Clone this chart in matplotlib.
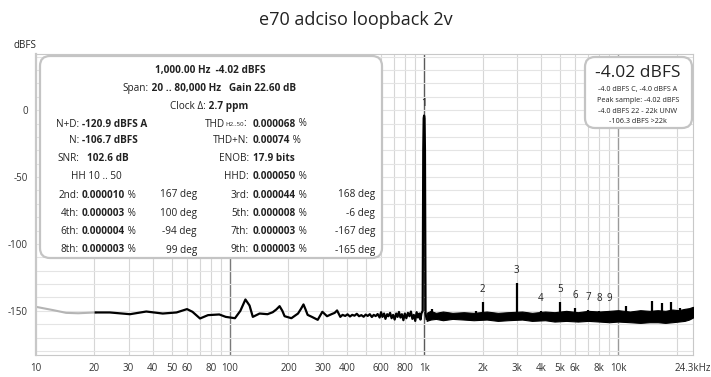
import matplotlib
matplotlib.use("Agg")
import matplotlib.pyplot as plt
from matplotlib.patches import FancyBboxPatch

plt.rcParams['font.family'] = ['Open Sans', 'DejaVu Sans']

# ---- data ----
# part below 20 Hz (outside the span) is drawn in grey
low_freq = [10, 12.3, 14.3, 16.5, 20.3]
low_db = [-147.0, -149.5, -151.5, -151.8, -151.2]

# main trace 20 Hz .. just past the fundamental
trace_freq = [20.3, 24, 30.5, 37, 45, 53, 60, 64, 70, 77, 88, 95, 106, 113, 120,
              126, 131, 142, 156, 166, 173, 180, 186, 191, 207, 224, 232, 239, 245,
              251, 264, 283, 299, 316, 333, 346, 356,
              370, 380, 392, 403, 415, 426, 438, 450, 462, 475, 488, 500, 512, 525,
              538, 550, 563, 576, 590, 600, 610, 622, 632, 645, 655, 668, 680, 692,
              705, 718, 730, 742, 755, 768, 782, 795, 810, 825, 840, 855, 870, 885,
              900, 915, 930, 945, 958, 968,
              983, 990, 995, 1000, 1005, 1010, 1017, 1030]
trace_db = [-151.2, -151.2, -152.5, -150.5, -152.0, -151.2, -148.7, -150.7, -155.7,
            -153.2, -152.7, -154.5, -155.5, -150.0, -141.5, -146.0, -154.5, -152.0,
            -152.5, -151.0, -149.0, -146.5, -150.0, -154.0, -155.5, -152.0, -148.5,
            -145.2, -149.0, -153.0, -154.5, -156.7, -150.7, -154.0, -152.5, -151.5,
            -149.7,
            -154.5, -153.0, -153.8, -152.6, -154.2, -153.0, -153.6, -152.2, -154.0,
            -153.2, -154.4, -152.8, -153.8, -152.5, -154.6, -153.0, -153.9, -152.4,
            -155.0, -151.0, -154.5, -152.0, -156.0, -152.5, -154.0, -151.5, -155.5,
            -153.0, -156.5, -152.0, -154.5, -150.8, -155.0, -152.5, -157.0, -152.0,
            -155.5, -151.5, -154.0, -150.5, -156.0, -153.0, -157.5, -151.0, -155.0,
            -152.0, -156.5, -152.0,
            -150.0, -30.0, -6.0, -4.02, -6.0, -30.0, -152.0, -156.0]

# noise floor band above 1 kHz (upper / lower edge)
band_freq = [1030, 1080, 1150, 1250, 1400, 1600, 1800, 2100, 2400, 2700,
             3200, 3600, 4200, 4700, 5400, 6200, 7000, 8000, 9000, 10000,
             11500, 13000, 14500, 16000, 17500, 19000, 20500, 22000, 23200, 24300]
band_hi = [-151.5, -150.0, -151.5, -150.5, -151.5, -151.0, -151.5, -150.5, -151.5, -151.0,
           -150.5, -151.5, -150.5, -151.0, -150.0, -151.0, -150.0, -150.5, -150.0, -149.5,
           -150.5, -149.5, -150.0, -149.5, -150.0, -149.0, -149.5, -148.5, -148.0, -147.0]
band_lo = [-157.5, -156.5, -156.0, -157.0, -156.0, -156.5, -157.0, -156.5, -157.5, -157.0,
           -156.5, -157.5, -157.0, -158.0, -157.5, -158.0, -157.5, -158.0, -158.5, -158.0,
           -158.5, -159.0, -158.5, -158.5, -159.0, -158.5, -158.0, -157.5, -156.5, -155.0]

# spurs / harmonics sticking out of the floor
spike_freq = [1100, 1850, 2000, 3000, 4000, 5000, 6000, 7000, 8000, 9000,
              11000, 14900, 16900, 18800, 20900]
spike_top = [-148.5, -150.0, -143.4, -129.5, -150.2, -143.5, -148.2, -149.6, -150.0,
             -150.3, -146.6, -142.6, -144.5, -143.4, -148.2]

harm_label = ['1', '2', '3', '4', '5', '6', '7', '8', '9']
harm_freq = [1000, 2000, 3000, 4000, 5000, 6000, 7000, 8000, 9000]
harm_top = [-4.02, -143.4, -129.5, -150.2, -143.5, -148.2, -149.6, -150.0, -150.3]

xtick_freq = [10, 20, 30, 40, 50, 60, 80, 100, 200, 300, 400, 600, 800, 1000,
              2000, 3000, 4000, 5000, 6000, 8000, 10000, 24300]
xtick_text = ['10', '20', '30', '40', '50', '60', '80', '100', '200', '300', '400',
              '600', '800', '1k', '2k', '3k', '4k', '5k', '6k', '8k', '10k', '24.3kHz']
ytick_db = [0, -50, -100, -150]

# harmonic table in the info box
h_name_l = ['2nd:', '4th:', '6th:', '8th:']
h_val_l = ['0.000010', '0.000003', '0.000004', '0.000003']
h_deg_l = ['167 deg', '100 deg', '-94 deg', '99 deg']
h_name_r = ['3rd:', '5th:', '7th:', '9th:']
h_val_r = ['0.000044', '0.000008', '0.000003', '0.000003']
h_deg_r = ['168 deg', '-6 deg', '-167 deg', '-165 deg']

W, H = 711, 377
fig = plt.figure(figsize=(W / 100, H / 100), dpi=100)
ax = fig.add_axes([36 / W, 1 - 355 / H, (693 - 36) / W, (355 - 54) / H])

ax.set_xscale('log')
ax.set_xlim(10, 24300)
ax.set_ylim(-183, 42)

# grid
minor_x = [f * d for d in (10, 100, 1000) for f in range(2, 10)] + [20000]
for f in minor_x:
    ax.axvline(f, color='#d6d6d6', lw=0.8, zorder=0)
ax.axvline(100, color='#7a7a7a', lw=1.0, zorder=0)
ax.axvline(1000, color='#5a5a5a', lw=1.0, zorder=0)
ax.axvline(10000, color='#9a9a9a', lw=1.0, zorder=0)
for y in range(-180, 41, 10):
    ax.axhline(y, color='#e4e4e4', lw=0.8, zorder=0)

ax.plot(low_freq, low_db, color='#b4b4b4', lw=1.5, zorder=2)
ax.plot(trace_freq, trace_db, color='black', lw=1.6, zorder=3)
ax.fill_between(band_freq, band_lo, band_hi, color='black', lw=0.8, zorder=3)
ax.vlines(spike_freq, -153, spike_top, color='black', lw=1.6, zorder=3)

for lab, f, top in zip(harm_label, harm_freq, harm_top):
    ax.annotate(lab, (f, top), xytext=(0, 9), textcoords='offset points',
                ha='center', va='center', fontsize=7, color='#222222', zorder=4)

ax.set_xticks(xtick_freq)
ax.set_xticklabels(xtick_text)
ax.minorticks_off()
ax.set_yticks(ytick_db)
ax.set_yticklabels([str(v) for v in ytick_db])
ax.tick_params(length=0, labelsize=7, colors='#333333', pad=6)
for s in ax.spines.values():
    s.set_color('#c8c8c8')
ax.spines['left'].set_linewidth(1.6)

fig.text(0.5, 1 - 20 / H, 'e70 adciso loopback 2v', ha='center', va='center',
         fontsize=13, color='#222222')
fig.text(25 / W, 1 - 45 / H, 'dBFS', ha='center', va='center', fontsize=7,
         color='#222222')


def px(x, y, s, **kw):
    kw.setdefault('fontsize', 7.2)
    kw.setdefault('color', '#222222')
    kw.setdefault('va', 'center')
    return fig.text(x / 100, (H - y) / 100, s, transform=fig.dpi_scale_trans,
                    zorder=11, **kw)


def after(prev, s, bold=False, size=7.2):
    return ax.annotate(s, xy=(1, 0.5), xycoords=prev, ha='left', va='center',
                       fontsize=size, color='#222222',
                       fontweight='bold' if bold else 'normal',
                       annotation_clip=False, zorder=11)


def box(x0, y0, x1, y1):
    p = FancyBboxPatch((x0 / 100, (H - y1) / 100), (x1 - x0) / 100, (y1 - y0) / 100,
                       boxstyle='round,pad=0,rounding_size=0.1',
                       transform=fig.dpi_scale_trans, facecolor='white',
                       edgecolor='#c4c4c4', lw=1.6, zorder=10, clip_on=False)
    ax.add_patch(p)


# left info box
box(40, 56, 382, 258)
px(210.5, 70.7, '1,000.00 Hz  -4.02 dBFS', ha='center', fontweight='bold')
t = px(122.7, 88.3, 'Span:')
after(t, ' 20 .. 80,000 Hz   Gain 22.60 dB', bold=True)
t = px(170, 106.7, 'Clock Δ:')
after(t, ' 2.7 ppm', bold=True)

px(79, 124, 'N+D:', ha='right')
px(82, 124, '-120.9 dBFS A', fontweight='bold')
px(79, 140.7, 'N:', ha='right')
px(82, 140.7, '-106.7 dBFS', fontweight='bold')
px(79, 158.3, 'SNR:', ha='right')
px(86.7, 158.3, '102.6 dB', fontweight='bold')
px(96, 176.7, 'HH 10 .. 50', ha='center')

t = px(225, 124, 'THD', ha='right')
s = after(t, 'H2..50', size=4.5)
s.xy = (1, 0.3)
after(s, ':')
t = px(252.7, 124, '0.000068', fontweight='bold')
after(t, ' %')
px(249, 140.7, 'THD+N:', ha='right')
t = px(252.7, 140.7, '0.00074', fontweight='bold')
after(t, ' %')
px(249, 158.3, 'ENOB:', ha='right')
px(252.7, 158.3, '17.9 bits', fontweight='bold')
px(249, 176.7, 'HHD:', ha='right')
t = px(252.7, 176.7, '0.000050', fontweight='bold')
after(t, ' %')

row_y = [195, 213.3, 231.7, 250]
for i, y in enumerate(row_y):
    px(79, y, h_name_l[i], ha='right')
    t = px(82, y, h_val_l[i], fontweight='bold')
    after(t, ' %')
    px(197, y, h_deg_l[i], ha='right')
    px(249, y, h_name_r[i], ha='right')
    t = px(252.7, y, h_val_r[i], fontweight='bold')
    after(t, ' %')
    px(375, y, h_deg_r[i], ha='right')

# right level box
box(585, 57, 692, 128)
px(638, 73.3, '-4.02 dBFS', ha='center', fontsize=12.5)
px(638, 89.3, '-4.0 dBFS C, -4.0 dBFS A', ha='center', fontsize=5.2)
px(638, 100.7, 'Peak sample: -4.02 dBFS', ha='center', fontsize=5.2)
px(638, 111.7, '-4.0 dBFS 22 - 22k UNW', ha='center', fontsize=5.2)
px(638, 121.7, '-106.3 dBFS >22k', ha='center', fontsize=5.2)

fig.savefig('out.png', dpi=100)
